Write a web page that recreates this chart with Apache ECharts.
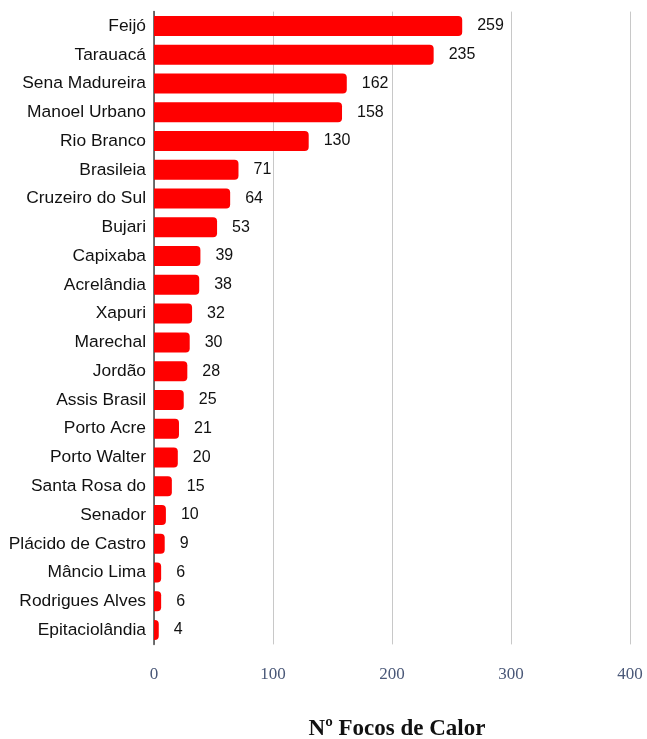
<!DOCTYPE html>
<html><head><meta charset="utf-8">
<script src="https://cdn.jsdelivr.net/npm/echarts@6/dist/echarts.min.js"></script>
<style>html,body{margin:0;padding:0;background:#fff}#c{width:647px;height:739px}</style>
</head><body><div id="c"></div>
<script>
const categories = ["Feijó","Tarauacá","Sena Madureira","Manoel Urbano","Rio Branco","Brasileia","Cruzeiro do Sul","Bujari","Capixaba","Acrelândia","Xapuri","Marechal","Jordão","Assis Brasil","Porto Acre","Porto Walter","Santa Rosa do","Senador","Plácido de Castro","Mâncio Lima","Rodrigues Alves","Epitaciolândia"];
const values = [259,235,162,158,130,71,64,53,39,38,32,30,28,25,21,20,15,10,9,6,6,4];
const xTicks = [0,100,200,300,400];
const chart = echarts.init(document.getElementById('c'));
chart.setOption({
  animation:false,
  title:{text:'Nº Focos de Calor',left:392,top:713,textAlign:'center',textStyle:{fontFamily:'Liberation Serif',fontWeight:'bold',fontSize:23,color:'#111'}},
  grid:{left:154,right:17,top:11.6,bottom:94.6,containLabel:false},
  xAxis:{type:'value',min:xTicks[0],max:xTicks[xTicks.length-1],interval:100,
    axisLine:{show:false},axisTick:{show:false},
    axisLabel:{fontFamily:'Liberation Serif',fontSize:17,color:'#4a5878',margin:22},
    splitLine:{lineStyle:{color:'#c8c8c8',width:1}}},
  yAxis:{type:'category',data:categories,inverse:true,
    axisLine:{lineStyle:{color:'#444',width:1.5}},axisTick:{show:false},
    axisLabel:{fontFamily:'Liberation Sans',fontSize:17.4,color:'#111',margin:8}},
  series:[{type:'bar',data:values,barWidth:20,
    itemStyle:{color:'#ff0000',borderRadius:[0,4,4,0]},
    label:{show:true,position:'right',distance:15,fontFamily:'Liberation Sans',fontSize:16,color:'#111'}}]
});
</script></body></html>
